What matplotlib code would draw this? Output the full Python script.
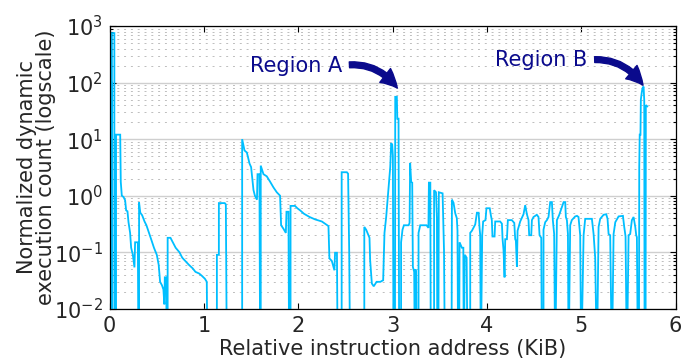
import numpy as np
import matplotlib
matplotlib.use("Agg")
import matplotlib.pyplot as plt

# --- data (KiB, normalized count); 1e-3 = below the axis ---
BOT = 1e-3
x_kib = [
    0.000, 0.005, 0.005, 0.018, 0.018, 0.024, 0.024, 0.050, 0.050, 0.068,
    0.068, 0.112, 0.118, 0.129, 0.147, 0.164, 0.175, 0.189, 0.200, 0.217, 0.228, 0.246, 0.263, 0.270, 0.299, 0.306,
    0.312, 0.312, 0.325, 0.345, 0.370, 0.390, 0.410, 0.440, 0.470, 0.500, 0.520, 0.535, 0.555, 0.570, 0.580, 0.585, 0.600, 0.606,
    0.615, 0.615, 0.645, 0.670, 0.700, 0.740, 0.770, 0.810, 0.840, 0.880, 0.910, 0.950, 0.980, 1.010, 1.030, 1.037,
    1.137, 1.137, 1.158, 1.158, 1.220, 1.232, 1.243,
    1.405, 1.405, 1.430, 1.455, 1.483, 1.500, 1.525, 1.540, 1.562, 1.568, 1.588, 1.596,
    1.602, 1.602, 1.631, 1.666, 1.702, 1.737, 1.772, 1.807, 1.818, 1.843, 1.868, 1.875, 1.896, 1.903,
    1.918, 1.918, 1.965, 1.990, 2.020, 2.060, 2.120, 2.180, 2.250, 2.320, 2.330, 2.356, 2.383, 2.390, 2.410, 2.418,
    2.460, 2.460, 2.515, 2.528, 2.540, 2.550,
    2.700, 2.700, 2.720, 2.734, 2.755, 2.762, 2.780, 2.800, 2.830, 2.870, 2.900, 2.914, 2.932, 2.957, 2.975, 2.985,
    2.996, 3.003, 3.010, 3.025, 3.028, 3.045, 3.050, 3.063, 3.070,
    3.090, 3.090, 3.105, 3.120, 3.170, 3.180, 3.186, 3.197, 3.208, 3.215, 3.229, 3.236, 3.243, 3.250, 3.255,
    3.275, 3.275, 3.293, 3.360, 3.380, 3.385, 3.400, 3.405, 3.440, 3.440, 3.460, 3.470, 3.475, 3.485, 3.490, 3.530, 3.545, 3.555,
    3.625, 3.629, 3.646, 3.664, 3.681, 3.688, 3.695, 3.705, 3.710, 3.735, 3.750, 3.755, 3.765, 3.785, 3.795,
    3.823, 3.823, 3.841, 3.876, 3.894, 3.912, 3.922, 3.929, 3.935, 3.950, 3.960, 3.985, 3.995,
    4.030, 4.042, 4.052, 4.059, 4.081, 4.088, 4.140, 4.159, 4.166, 4.176, 4.187, 4.194, 4.212, 4.222, 4.264, 4.290,
    4.300, 4.307, 4.318, 4.325, 4.353, 4.388, 4.406, 4.424, 4.441, 4.448, 4.470, 4.477, 4.494, 4.529, 4.547, 4.558,
    4.576, 4.583,
    4.600, 4.600, 4.618, 4.636, 4.653, 4.671, 4.689, 4.699, 4.713, 4.724, 4.742, 4.765, 4.795, 4.813, 4.830, 4.837,
    4.848, 4.859, 4.866, 4.883, 4.900, 4.936, 4.955, 4.971, 4.989, 5.000, 5.025, 5.042, 5.113, 5.131, 5.148, 5.166,
    5.184, 5.201, 5.237, 5.265, 5.279, 5.290, 5.307, 5.325, 5.343, 5.361, 5.396, 5.442, 5.456, 5.470, 5.484, 5.502,
    5.519, 5.537, 5.555, 5.573, 5.583, 5.590, 5.601, 5.612, 5.615, 5.620, 5.628, 5.632, 5.643, 5.650, 5.661, 5.668,
    5.672, 5.682, 5.685, 5.700,
]
counts = [
    800, 800, 100, 100, BOT, BOT, 750, 750, BOT, BOT,
    12, 12, 1.76, 1.0, 0.95, 0.83, 0.55, 0.53, 0.34, 0.22, 0.12, 0.09, 0.054, 0.15, 0.15, BOT,
    BOT, 0.76, 0.5, 0.45, 0.35, 0.3, 0.24, 0.17, 0.12, 0.09, 0.06, 0.03, 0.026, 0.022, 0.012, 0.036, 0.036, BOT,
    BOT, 0.18, 0.18, 0.15, 0.12, 0.1, 0.08, 0.068, 0.06, 0.052, 0.045, 0.042, 0.038, 0.034, 0.03, BOT,
    BOT, 0.09, 0.09, 0.74, 0.74, 0.7, BOT,
    BOT, 10, 6.3, 5.8, 3.7, 3.2, 1.26, 1.0, 0.85, 2.4, 2.4, BOT,
    BOT, 3.4, 2.4, 2.2, 1.76, 1.4, 1.15, 1.0, 0.3, 0.26, 0.22, 0.52, 0.52, BOT,
    BOT, 0.66, 0.66, 0.6, 0.55, 0.48, 0.42, 0.38, 0.35, 0.29, 0.078, 0.07, 0.048, 0.098, 0.098, BOT,
    BOT, 2.6, 2.6, 2.45, 0.1, BOT,
    BOT, 0.28, 0.25, 0.22, 0.18, 0.072, 0.028, 0.025, 0.03, 0.03, 0.032, 0.22, 0.42, 1.4, 3.2, 8.5,
    8.0, 5.0, BOT, BOT, 56, 56, 23, 23, BOT,
    BOT, 0.15, 0.25, 0.3, 0.3, 0.33, 3.8, 1.75, 1.7, 0.055, 0.045, BOT, 0.05, 0.035, BOT,
    BOT, 0.22, 0.3, 0.3, 0.27, 1.7, 1.7, BOT, BOT, 1.25, 1.15, 0.4, BOT, BOT, 1.15, 1.1, 0.11, BOT,
    BOT, 0.85, 0.75, 0.49, 0.4, 0.24, BOT, BOT, 0.15, 0.12, 0.12, BOT, 0.09, 0.08, BOT,
    BOT, 0.22, 0.24, 0.31, 0.5, 0.5, 0.27, 0.2, BOT, 0.2, 0.35, 0.37, 0.6,
    0.6, 0.45, 0.37, 0.19, 0.19, 0.35, 0.35, 0.32, 0.17, 0.11, 0.036, 0.17, 0.17, 0.37, 0.37, 0.33,
    0.17, 0.16, 0.055, 0.24, 0.35, 0.47, 0.68, 0.47, 0.37, 0.2, 0.2, 0.37, 0.42, 0.46, 0.42, 0.2,
    0.18, BOT,
    BOT, 0.25, 0.34, 0.37, 0.42, 0.77, 0.77, 0.37, 0.21, BOT, 0.37, 0.45, 0.63, 0.77, 0.77, 0.42,
    0.37, 0.21, BOT, 0.3, 0.37, 0.43, 0.44, 0.42, 0.2, BOT, 0.2, 0.39, 0.39, 0.21, 0.08, BOT,
    0.28, 0.39, 0.46, 0.47, 0.39, 0.21, 0.2, BOT, 0.21, 0.34, 0.43, 0.44, 0.28, 0.19, BOT, 0.2,
    0.21, 0.37, 0.42, 0.28, 0.2, 0.185, BOT, BOT, 3.2, 12, 12, 50, 69, 80, 85, 49,
    BOT, BOT, 40, 38,
]

regions = ["Region A", "Region B"]
region_text_xy = [(1.98, 200), (4.58, 250)]
region_tip_xy = [(3.05, 80), (5.655, 90)]

plt.rcParams["font.family"] = "DejaVu Sans"
plt.rcParams["mathtext.fontset"] = "dejavusans"
plt.rcParams["axes.unicode_minus"] = False

fig = plt.figure(figsize=(6.81, 3.58), dpi=100)
ax = fig.add_axes([0.161, 0.1374, 0.831, 0.7899])

ax.plot(x_kib, counts, color="#00bfff", lw=1.3, solid_joinstyle="miter")

ax.set_yscale("log")
ax.set_xlim(0, 6)
ax.set_ylim(1e-2, 1e3)
ax.set_xticks(range(7))

# MATLAB-like grid: solid decades, light dotted minor lines
ax.grid(True, which="major", axis="y", color="#cfcfcf", lw=1.0, ls="-")
ax.grid(True, which="minor", axis="y", color="#bdbdbd", lw=0.7, ls=(0, (2.0, 5.0)))
ax.set_axisbelow(True)

ax.tick_params(which="both", direction="in", top=True, right=True, labelsize=15, width=0.8)
ax.tick_params(which="major", length=4, pad=5)
ax.tick_params(which="minor", length=2.5)
ax.tick_params(axis="x", which="minor", top=False, bottom=False)
for s in ax.spines.values():
    s.set_linewidth(0.9)

ax.set_xlabel("Relative instruction address (KiB)", fontsize=15, color="#262626", labelpad=2)
ax.set_ylabel("Normalized dynamic\nexecution count (logscale)", fontsize=15, color="#262626",
              linespacing=0.95)
ax.yaxis.set_label_coords(-0.095, 0.5)
for lab in ax.get_xticklabels() + ax.get_yticklabels():
    lab.set_color("#262626")

for name, txy, tip in zip(regions, region_text_xy, region_tip_xy):
    ax.annotate(name, xy=tip, xytext=txy, fontsize=15, color="#0a0a8c",
                ha="center", va="center",
                arrowprops=dict(arrowstyle="simple,head_length=0.9,head_width=0.9,tail_width=0.3",
                                connectionstyle="arc3,rad=-0.3", color="#0a0a8c",
                                relpos=(1.0, 0.5), shrinkA=3, shrinkB=0, mutation_scale=14))

fig.savefig("out.png", dpi=100)
